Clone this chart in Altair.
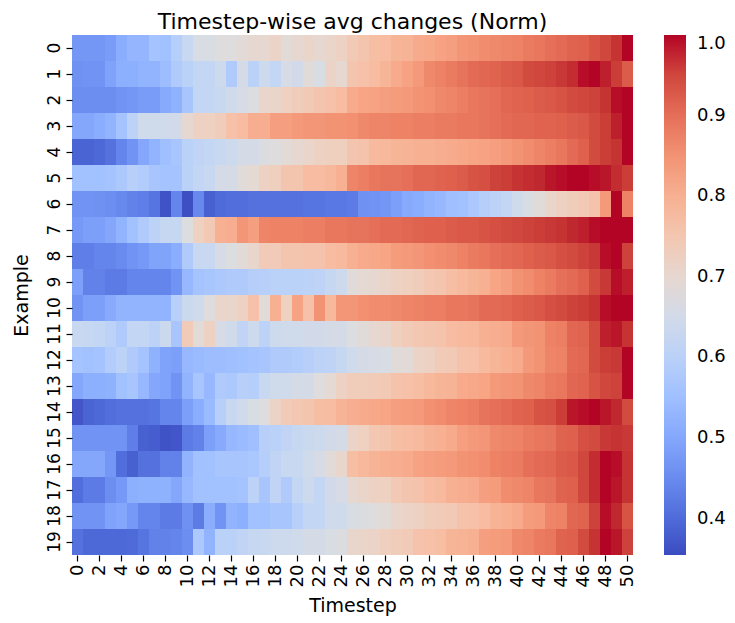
import altair as alt
import pandas as pd

# Example rows (0..19), timestep columns (0..50)
r0 = [0.47,0.47,0.47,0.48,0.51,0.53,0.53,0.56,0.555,0.59,
      0.63,0.665,0.665,0.68,0.68,0.69,0.70,0.70,0.715,0.69,
      0.70,0.71,0.70,0.71,0.72,0.745,0.755,0.77,0.775,0.79,
      0.795,0.81,0.815,0.825,0.83,0.845,0.85,0.86,0.865,0.87,
      0.875,0.885,0.89,0.90,0.905,0.915,0.92,0.935,0.95,0.97,
      1.0]
r1 = [0.46,0.465,0.465,0.49,0.515,0.515,0.525,0.525,0.545,0.58,
      0.60,0.62,0.62,0.64,0.58,0.655,0.60,0.64,0.62,0.66,
      0.65,0.685,0.665,0.715,0.70,0.755,0.765,0.775,0.79,0.81,
      0.825,0.84,0.865,0.875,0.885,0.895,0.905,0.91,0.915,0.925,
      0.93,0.945,0.95,0.955,0.965,0.975,0.995,1.0,0.985,0.96,
      0.925]
r2 = [0.455,0.455,0.455,0.455,0.465,0.47,0.48,0.48,0.505,0.52,
      0.565,0.62,0.62,0.63,0.645,0.66,0.675,0.71,0.71,0.725,
      0.735,0.745,0.755,0.765,0.775,0.81,0.82,0.825,0.83,0.835,
      0.84,0.85,0.855,0.865,0.87,0.88,0.89,0.895,0.90,0.91,
      0.915,0.92,0.925,0.93,0.935,0.945,0.95,0.955,0.97,0.995,
      1.0]
r3 = [0.50,0.50,0.51,0.525,0.56,0.605,0.645,0.645,0.645,0.65,
      0.70,0.72,0.725,0.735,0.765,0.775,0.805,0.805,0.83,0.83,
      0.84,0.845,0.845,0.85,0.85,0.855,0.865,0.87,0.87,0.875,
      0.875,0.88,0.88,0.885,0.885,0.89,0.89,0.895,0.90,0.905,
      0.91,0.91,0.915,0.915,0.92,0.925,0.93,0.945,0.96,0.985,
      1.0]
r4 = [0.39,0.39,0.395,0.41,0.44,0.465,0.50,0.525,0.55,0.565,
      0.60,0.615,0.62,0.63,0.64,0.655,0.655,0.67,0.68,0.69,
      0.70,0.71,0.72,0.73,0.73,0.755,0.76,0.78,0.785,0.79,
      0.795,0.80,0.80,0.805,0.81,0.815,0.82,0.825,0.83,0.84,
      0.85,0.86,0.87,0.88,0.89,0.905,0.92,0.945,0.96,0.97,
      1.0]
r5 = [0.555,0.555,0.555,0.56,0.575,0.595,0.585,0.565,0.56,0.56,
      0.60,0.62,0.63,0.655,0.655,0.685,0.695,0.72,0.73,0.755,
      0.755,0.775,0.775,0.785,0.80,0.87,0.88,0.89,0.895,0.895,
      0.90,0.91,0.91,0.915,0.92,0.925,0.935,0.94,0.955,0.96,
      0.97,0.975,0.98,0.99,0.995,1.0,1.0,0.995,0.99,0.975,
      0.96]
r6 = [0.465,0.465,0.46,0.455,0.445,0.435,0.43,0.415,0.365,0.44,
      0.36,0.445,0.385,0.40,0.405,0.405,0.41,0.41,0.41,0.41,
      0.41,0.415,0.415,0.42,0.42,0.425,0.46,0.465,0.47,0.485,
      0.505,0.51,0.525,0.535,0.55,0.555,0.575,0.59,0.605,0.62,
      0.645,0.665,0.685,0.71,0.72,0.735,0.745,0.76,0.84,1.0,
      0.875]
r7 = [0.475,0.485,0.485,0.50,0.525,0.555,0.58,0.605,0.625,0.625,
      0.675,0.725,0.745,0.80,0.805,0.845,0.83,0.87,0.875,0.875,
      0.875,0.88,0.88,0.89,0.89,0.895,0.895,0.90,0.905,0.905,
      0.91,0.915,0.92,0.92,0.925,0.93,0.93,0.935,0.94,0.945,
      0.95,0.955,0.96,0.965,0.97,0.98,0.985,0.995,1.0,1.0,
      1.0]
r8 = [0.43,0.43,0.44,0.44,0.45,0.465,0.475,0.495,0.495,0.51,
      0.58,0.63,0.63,0.66,0.675,0.69,0.705,0.74,0.74,0.755,
      0.755,0.76,0.76,0.775,0.78,0.80,0.81,0.815,0.82,0.835,
      0.84,0.845,0.855,0.86,0.865,0.875,0.885,0.89,0.90,0.905,
      0.91,0.92,0.925,0.93,0.94,0.945,0.955,0.965,0.995,1.0,
      0.955]
r9 = [0.485,0.435,0.435,0.425,0.425,0.44,0.44,0.44,0.44,0.465,
      0.535,0.56,0.565,0.575,0.58,0.58,0.59,0.595,0.60,0.60,
      0.60,0.605,0.61,0.625,0.64,0.685,0.695,0.70,0.71,0.72,
      0.73,0.735,0.75,0.755,0.77,0.78,0.79,0.80,0.82,0.83,
      0.85,0.86,0.875,0.885,0.90,0.905,0.92,0.945,0.965,0.995,
      0.985]
r10 = [0.465,0.485,0.485,0.505,0.525,0.525,0.525,0.525,0.525,0.595,
       0.635,0.645,0.68,0.71,0.71,0.72,0.765,0.685,0.80,0.725,
       0.825,0.765,0.85,0.785,0.845,0.845,0.855,0.86,0.86,0.865,
       0.87,0.875,0.88,0.88,0.89,0.89,0.895,0.905,0.905,0.91,
       0.92,0.925,0.93,0.94,0.945,0.955,0.96,0.97,0.995,1.0,
       1.0]
r11 = [0.63,0.625,0.62,0.605,0.58,0.62,0.62,0.605,0.635,0.565,
       0.74,0.69,0.72,0.66,0.645,0.615,0.64,0.605,0.64,0.645,
       0.645,0.65,0.65,0.655,0.655,0.675,0.685,0.70,0.705,0.73,
       0.74,0.75,0.755,0.76,0.775,0.78,0.785,0.80,0.805,0.81,
       0.84,0.845,0.85,0.875,0.88,0.91,0.915,0.945,0.985,0.99,
       0.97]
r12 = [0.56,0.555,0.56,0.585,0.605,0.58,0.56,0.52,0.49,0.485,
       0.535,0.54,0.545,0.545,0.55,0.555,0.56,0.565,0.58,0.58,
       0.585,0.595,0.605,0.61,0.625,0.645,0.655,0.66,0.665,0.685,
       0.69,0.715,0.72,0.74,0.745,0.76,0.765,0.78,0.79,0.80,
       0.81,0.84,0.85,0.87,0.875,0.905,0.91,0.945,0.96,0.965,
       1.0]
r13 = [0.50,0.515,0.515,0.52,0.555,0.565,0.535,0.50,0.49,0.465,
       0.525,0.565,0.535,0.58,0.575,0.595,0.59,0.63,0.645,0.645,
       0.655,0.655,0.68,0.695,0.72,0.735,0.735,0.74,0.745,0.76,
       0.765,0.77,0.785,0.79,0.795,0.81,0.815,0.82,0.84,0.845,
       0.85,0.865,0.87,0.885,0.89,0.91,0.915,0.935,0.95,0.955,
       1.0]
r14 = [0.37,0.39,0.395,0.405,0.41,0.41,0.41,0.415,0.44,0.44,
       0.485,0.51,0.54,0.595,0.63,0.645,0.665,0.68,0.715,0.74,
       0.75,0.755,0.77,0.775,0.795,0.805,0.81,0.815,0.82,0.83,
       0.835,0.84,0.855,0.86,0.87,0.875,0.88,0.895,0.90,0.905,
       0.915,0.92,0.935,0.94,0.96,0.99,0.995,1.0,0.99,0.98,
       0.945]
r15 = [0.465,0.465,0.465,0.465,0.465,0.43,0.385,0.38,0.365,0.37,
       0.425,0.435,0.485,0.505,0.535,0.54,0.55,0.595,0.60,0.615,
       0.625,0.635,0.64,0.65,0.655,0.715,0.725,0.75,0.755,0.77,
       0.775,0.78,0.795,0.80,0.81,0.83,0.84,0.845,0.865,0.87,
       0.875,0.885,0.89,0.895,0.915,0.92,0.94,0.945,0.965,0.97,
       0.965]
r16 = [0.50,0.50,0.50,0.47,0.405,0.385,0.41,0.41,0.435,0.435,
       0.525,0.555,0.555,0.565,0.565,0.565,0.57,0.59,0.615,0.63,
       0.63,0.645,0.66,0.69,0.705,0.77,0.785,0.795,0.80,0.805,
       0.81,0.825,0.83,0.835,0.84,0.85,0.855,0.86,0.875,0.88,
       0.885,0.90,0.905,0.91,0.925,0.93,0.95,0.975,1.0,0.995,
       0.97]
r17 = [0.405,0.425,0.425,0.455,0.475,0.515,0.52,0.52,0.52,0.50,
       0.535,0.555,0.555,0.555,0.555,0.56,0.605,0.565,0.615,0.58,
       0.62,0.64,0.62,0.65,0.66,0.70,0.71,0.72,0.725,0.745,
       0.755,0.76,0.775,0.78,0.80,0.805,0.81,0.83,0.835,0.86,
       0.865,0.87,0.89,0.895,0.915,0.92,0.95,0.975,1.0,0.99,
       0.97]
r18 = [0.465,0.465,0.465,0.49,0.50,0.475,0.44,0.44,0.425,0.425,
       0.46,0.425,0.51,0.465,0.525,0.515,0.555,0.555,0.565,0.565,
       0.595,0.62,0.62,0.645,0.645,0.665,0.67,0.68,0.69,0.705,
       0.715,0.72,0.735,0.74,0.745,0.76,0.765,0.775,0.795,0.80,
       0.81,0.835,0.84,0.87,0.875,0.91,0.915,0.955,0.995,0.98,
       0.935]
r19 = [0.41,0.395,0.395,0.395,0.395,0.40,0.415,0.435,0.435,0.44,
       0.455,0.575,0.525,0.60,0.60,0.615,0.625,0.63,0.64,0.64,
       0.645,0.655,0.655,0.665,0.67,0.705,0.71,0.715,0.73,0.735,
       0.74,0.76,0.765,0.77,0.79,0.795,0.80,0.83,0.835,0.84,
       0.865,0.87,0.885,0.89,0.915,0.92,0.945,0.97,1.0,0.99,
       0.955]

rows = [r0, r1, r2, r3, r4, r5, r6, r7, r8, r9,
        r10, r11, r12, r13, r14, r15, r16, r17, r18, r19]
timesteps = list(range(51))
examples = list(range(20))
x_tick_labels = list(range(0, 51, 2))
cbar_ticks = [0.4, 0.5, 0.6, 0.7, 0.8, 0.9, 1.0]

vmin, vmax = 0.355, 1.0
coolwarm = ["#3b4cc0", "#445acc", "#4d68d7", "#5775e1", "#6282ea", "#6c8ef1",
            "#779af7", "#82a5fb", "#8db0fe", "#98b9ff", "#a3c2ff", "#aec9fd",
            "#b8d0f9", "#c2d5f4", "#ccd9ee", "#d5dbe6", "#dddddd", "#e5d8d1",
            "#ecd3c5", "#f1ccb8", "#f5c4ac", "#f7bb9f", "#f7b193", "#f7a686",
            "#f49a7b", "#f18d6f", "#ec7f63", "#e57059", "#de604d", "#d55042",
            "#cb3e38", "#c0282f", "#b40426"]

records = []
for e, row in zip(examples, rows):
    assert len(row) == 51
    for t, v in zip(timesteps, row):
        records.append({"Example": e, "Timestep": t, "v": v})
df = pd.DataFrame(records)

FONT = "DejaVu Sans"
LBL = 18
cscale = alt.Scale(domain=[vmin, vmax], range=coolwarm, interpolate="rgb")

base = alt.Chart(df).mark_rect().encode(
    x=alt.X("Timestep:O", sort=timesteps,
            scale=alt.Scale(paddingInner=0, paddingOuter=0),
            axis=alt.Axis(values=x_tick_labels, labelAngle=270, title="Timestep",
                          labelFontSize=LBL, titleFontSize=19, labelPadding=3,
                          titlePadding=10)),
    y=alt.Y("Example:O", sort=examples,
            scale=alt.Scale(paddingInner=0, paddingOuter=0),
            axis=alt.Axis(labelAngle=270, title="Example", labelFontSize=17,
                          titleFontSize=19, labelPadding=3, titlePadding=14)),
    color=alt.Color("v:Q", scale=cscale,
                    legend=alt.Legend(title=None, type="gradient", values=cbar_ticks,
                                      format=".1f", direction="vertical",
                                      gradientLength=520, gradientThickness=22,
                                      gradientStrokeWidth=0, labelFontSize=LBL,
                                      labelColor="black", labelFont=FONT,
                                      labelOffset=11, offset=31)),
)

# the same cells drawn twice so anti-aliased seams between cells disappear
chart = alt.layer(base, base).properties(
    width=561,
    height=520,
    title=alt.TitleParams("Timestep-wise avg changes (Norm)", fontSize=22,
                          fontWeight="normal", font=FONT, color="black",
                          anchor="middle", frame="group", offset=1),
    padding={"left": 4, "top": 3, "right": 0, "bottom": 0},
).configure_axis(
    labelFont=FONT, titleFont=FONT, labelColor="black", titleColor="black",
    titleFontWeight="normal", domain=False, tickColor="black", tickSize=6,
    tickWidth=1.2, grid=False,
).configure_view(stroke=None)

chart.save("out.html", embed_options={"renderer": "svg", "actions": False})
